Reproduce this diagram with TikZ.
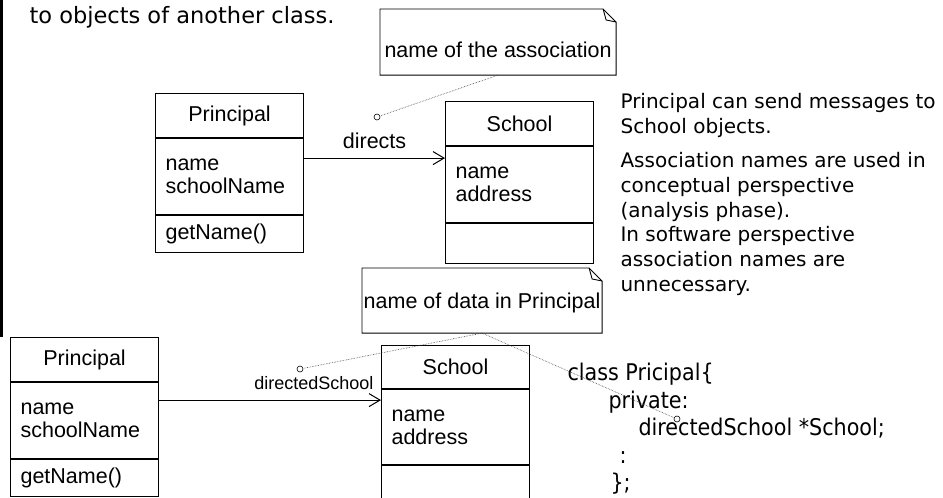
\documentclass[tikz,border=0pt]{standalone}
\usepackage{fontspec}
\setmainfont{Liberation Sans}
\newfontfamily\comicfont{DejaVu Sans}
\newfontfamily\codefont{DejaVu Sans Condensed}
\usepackage{tikz}
\usetikzlibrary{arrows.meta,positioning}

\newcommand{\umlsize}{\fontsize{21.5}{23}\selectfont}
% outline of a UML note with its folded corner
\newcommand{\foldnote}[1]{%
  \draw[line width=0.9pt] (#1.north west) -- ([xshift=-13pt]#1.north east)
    -- ([yshift=-13pt]#1.north east) -- (#1.south east) -- (#1.south west) -- cycle;
  \draw[line width=0.9pt] ([xshift=-13pt]#1.north east)
    -- ([xshift=-10pt,yshift=-11pt]#1.north east) -- ([yshift=-13pt]#1.north east);}

\begin{document}
\begin{tikzpicture}[x=1pt,y=-1pt,>={Straight Barb[length=11pt,width=13pt]},
		line width=1.1pt]
		\tikzstyle{classhead}=[draw,anchor=north west,minimum width=148pt,minimum height=44pt,
			inner sep=0pt,font=\umlsize]
		\tikzstyle{classattr}=[draw,minimum width=148pt,minimum height=76pt,text width=128pt,
			align=left,inner xsep=10pt,inner ysep=0pt,font=\umlsize]
		\tikzstyle{classops}=[classattr,minimum height=37pt]
		\tikzstyle{notebox}=[anchor=north west,inner sep=0pt,font=\umlsize]
		\tikzstyle{leader}=[densely dotted,line width=0.6pt,black!75]
		\tikzstyle{endring}=[circle,draw,line width=0.6pt,inner sep=0pt,minimum size=6pt,fill=white]
		\tikzstyle{assoc}=[->,line width=1pt]
		\tikzstyle{remark}=[anchor=base west,inner sep=0pt,font=\comicfont\fontsize{20}{24}\selectfont]
		\tikzstyle{code}=[anchor=base west,inner sep=0pt,font=\codefont\fontsize{23}{27}\selectfont]
		
		\useasboundingbox (0,0) rectangle (943,498);
		\clip (0,0) rectangle (943,498);
		\draw[line width=2.5pt] (1.25,0) -- (1.25,337);
		
		\node[remark,font=\comicfont\fontsize{22.5}{26}\selectfont] (lead) at (29,23) {to objects of another class.};
		
		% conceptual perspective
		\node[classhead] (phead) at (155,93) {Principal};
		\node[classattr,below=0pt of phead] (pattr) {name\\schoolName};
		\node[classops,below=0pt of pattr] (pops) {getName()};
		
		\node[classhead] (shead) at (445,101) {School};
		\node[classattr,below=0pt of shead] (sattr) {name\\address};
		\node[classops,below=0pt of sattr,minimum height=40pt] (sops) {};
		
		\coordinate (a1) at ([yshift=-20pt]pattr.north east);
		\draw[assoc] (a1) -- (a1 -| sattr.west)
			node[midway,above=9pt,inner sep=0pt,font=\umlsize] (dirlabel) {directs};
		
		\node[notebox,minimum width=235pt,minimum height=65pt,text height=31pt,text depth=0pt]
			(assocnote) at (380,9) {name of the association};
		\foldnote{assocnote}
		\node[endring] (ring1) at (377,117) {};
		\draw[leader] (assocnote.south) -- (ring1);
		
		\foreach \yy/\txt [count=\i] in {108/Principal can send messages to,133/School objects.,
			167/Association names are used in,192/conceptual perspective,217/{(analysis phase).},
			241/In software perspective,266/association names are,291/unnecessary.}
		\node[remark] (rem\i) at (620,\yy) {\txt};
		
		% software perspective
		\node[classhead] (p2head) at (10,337) {Principal};
		\node[classattr,below=0pt of p2head] (p2attr) {name\\schoolName};
		\node[classops,below=0pt of p2attr] (p2ops) {getName()};
		
		\node[classhead,minimum height=43pt] (s2head) at (381,345) {School};
		\node[classattr,below=0pt of s2head,minimum height=75pt] (s2attr) {name\\address};
		\node[classops,below=0pt of s2attr,minimum height=40pt] (s2ops) {};
		
		\coordinate (a2) at ([yshift=-18pt]p2attr.north east);
		\draw[assoc] (a2) -- (a2 -| s2attr.west)
			node[pos=1,anchor=south east,inner sep=1pt,xshift=-6pt,yshift=9pt,
			font=\fontsize{18}{20}\selectfont] (dslabel) {directedSchool};
		
		\foreach \xx/\yy/\txt [count=\i] in {567/380/class Pricipal\{,608/408/private:,
			638/435/directedSchool *School;,619/463/:,610/490/\};}
		\node[code] (src\i) at (\xx,\yy) {\txt};
		
		\node[notebox,minimum width=239pt,minimum height=64pt,text height=16pt,text depth=0pt]
			(datanote) at (362,268) {name of data in Principal};
		\foldnote{datanote}
		\node[endring] (ring2) at (300,369) {};
		\node[endring] (ring3) at (677,419) {};
		\draw[leader] (datanote.south) -- (ring2);
		\draw[leader] (datanote.south) -- (ring3);
\end{tikzpicture}
\end{document}
